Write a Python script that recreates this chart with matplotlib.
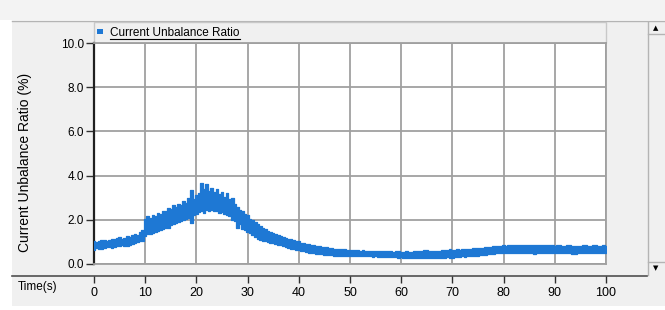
import matplotlib.pyplot as plt
import matplotlib.patches as mpatches
from matplotlib.lines import Line2D

# Datos: envolvente de la banda, una muestra cada 0.5 s
tiempo = [i * 0.5 for i in range(201)]
ratioSup = [1.05, 0.98, 1.02, 1.08, 1.10, 1.04, 1.08, 1.14, 1.12, 1.18,
            1.20, 1.14, 1.18, 1.26, 1.22, 1.30, 1.35, 1.32, 1.45, 1.52,
            2.05, 2.15, 2.08, 2.20, 2.15, 2.30, 2.25, 2.42, 2.38, 2.55,
            2.50, 2.68, 2.60, 2.72, 2.65, 2.85, 2.78, 3.00, 3.35, 2.95,
            3.10, 3.20, 3.65, 3.40, 3.60, 3.30, 3.45, 3.25, 3.40, 3.15,
            3.25, 3.05, 3.20, 2.95, 3.00, 2.70, 2.60, 2.45, 2.40, 2.25,
            2.20, 2.05, 2.00, 1.88, 1.82, 1.70, 1.62, 1.58, 1.50, 1.46,
            1.40, 1.36, 1.30, 1.28, 1.22, 1.18, 1.15, 1.12, 1.08, 1.04,
            1.02, 0.97, 0.95, 0.92, 0.90, 0.86, 0.85, 0.81, 0.80, 0.76,
            0.75, 0.77, 0.73, 0.72, 0.70, 0.69, 0.68, 0.66, 0.66, 0.64,
            0.64, 0.62, 0.62, 0.64, 0.61, 0.62, 0.61, 0.59, 0.61, 0.60,
            0.60, 0.58, 0.60, 0.57, 0.58, 0.59, 0.60, 0.56, 0.57, 0.58,
            0.56, 0.55, 0.57, 0.55, 0.56, 0.58, 0.58, 0.61, 0.60, 0.62,
            0.63, 0.60, 0.60, 0.59, 0.61, 0.60, 0.62, 0.64, 0.63, 0.66,
            0.64, 0.63, 0.66, 0.65, 0.68, 0.66, 0.70, 0.69, 0.71, 0.73,
            0.72, 0.71, 0.74, 0.76, 0.77, 0.79, 0.80, 0.82, 0.83, 0.82,
            0.85, 0.83, 0.84, 0.86, 0.85, 0.84, 0.88, 0.85, 0.86, 0.88,
            0.84, 0.86, 0.87, 0.84, 0.85, 0.87, 0.84, 0.85, 0.86, 0.84,
            0.83, 0.85, 0.84, 0.82, 0.83, 0.85, 0.85, 0.83, 0.80, 0.83,
            0.82, 0.84, 0.84, 0.82, 0.82, 0.85, 0.85, 0.83, 0.83, 0.84,
            0.82]
ratioInf = [0.65, 0.72, 0.70, 0.68, 0.72, 0.76, 0.75, 0.72, 0.78, 0.80,
            0.80, 0.84, 0.82, 0.80, 0.88, 0.92, 0.95, 1.00, 1.05, 1.02,
            1.25, 1.38, 1.35, 1.42, 1.45, 1.50, 1.55, 1.60, 1.65, 1.62,
            1.75, 1.80, 1.85, 1.88, 1.95, 2.00, 2.05, 2.10, 1.85, 2.20,
            2.25, 2.35, 2.40, 2.32, 2.45, 2.40, 2.45, 2.38, 2.40, 2.30,
            2.35, 2.28, 2.20, 2.15, 2.00, 1.95, 1.65, 1.80, 1.60, 1.55,
            1.45, 1.40, 1.30, 1.22, 1.12, 1.10, 1.05, 1.02, 1.00, 0.97,
            0.95, 0.90, 0.88, 0.84, 0.80, 0.76, 0.72, 0.70, 0.68, 0.65,
            0.63, 0.60, 0.58, 0.55, 0.52, 0.50, 0.48, 0.47, 0.45, 0.43,
            0.42, 0.40, 0.40, 0.39, 0.38, 0.36, 0.37, 0.36, 0.36, 0.35,
            0.36, 0.34, 0.35, 0.36, 0.36, 0.34, 0.34, 0.35, 0.35, 0.33,
            0.34, 0.33, 0.33, 0.32, 0.32, 0.30, 0.31, 0.31, 0.30, 0.29,
            0.30, 0.29, 0.29, 0.28, 0.28, 0.29, 0.27, 0.26, 0.26, 0.25,
            0.25, 0.26, 0.27, 0.28, 0.28, 0.29, 0.29, 0.28, 0.30, 0.27,
            0.28, 0.31, 0.32, 0.33, 0.34, 0.33, 0.35, 0.36, 0.36, 0.37,
            0.38, 0.40, 0.41, 0.42, 0.44, 0.46, 0.47, 0.49, 0.50, 0.51,
            0.52, 0.50, 0.50, 0.49, 0.51, 0.50, 0.48, 0.51, 0.52, 0.49,
            0.50, 0.48, 0.47, 0.50, 0.51, 0.49, 0.50, 0.48, 0.49, 0.50,
            0.50, 0.49, 0.48, 0.50, 0.50, 0.48, 0.49, 0.47, 0.45, 0.48,
            0.48, 0.50, 0.50, 0.48, 0.48, 0.50, 0.50, 0.49, 0.49, 0.50,
            0.50]
yTicks = [0, 2, 4, 6, 8, 10]
xTicks = [0, 10, 20, 30, 40, 50, 60, 70, 80, 90, 100]
serie = "Current Unbalance Ratio"

W, H = 665, 310
azul = "#1e78d4"
gris = "#f0f0f0"
borde = "#a0a0a0"
fuente = "Liberation Sans"

def fx(px):#pixel x -> fraccion
    return px / W
def fy(py):#pixel y (desde arriba) -> fraccion
    return 1 - py / H

fig = plt.figure(figsize=(W / 100, H / 100), dpi=100, facecolor="white")

#Paneles de fondo (debajo de los ejes)
fig.add_artist(mpatches.Rectangle((fx(12), fy(306)), fx(653), 285 / H, transform=fig.transFigure, facecolor=gris, edgecolor="none", zorder=-10))
fig.add_artist(mpatches.Rectangle((0, fy(20)), 1, 20 / H, transform=fig.transFigure, facecolor="#f3f3f3", edgecolor="none", zorder=-10))
fig.add_artist(Line2D([fx(12), 1], [fy(20.5), fy(20.5)], transform=fig.transFigure, color="#b4b4b4", lw=1, zorder=-9))
#Barra de leyenda
fig.add_artist(mpatches.Rectangle((fx(94), fy(43)), 512 / W, 21 / H, transform=fig.transFigure, facecolor=gris, edgecolor="#c8c8c8", lw=1, zorder=-9))
#Barra de desplazamiento
fig.add_artist(Line2D([fx(647.5), fx(647.5)], [fy(22), fy(275)], transform=fig.transFigure, color="#b4b4b4", lw=1, zorder=-9))
fig.add_artist(Line2D([fx(647.5), 1], [fy(33.5), fy(33.5)], transform=fig.transFigure, color="#b4b4b4", lw=1, zorder=-9))
fig.add_artist(Line2D([fx(647.5), 1], [fy(261.5), fy(261.5)], transform=fig.transFigure, color="#b4b4b4", lw=1, zorder=-9))
fig.text(fx(656), fy(28), "\u25b2", fontsize=5, ha="center", va="center", color="black")
fig.text(fx(656), fy(268), "\u25bc", fontsize=5, ha="center", va="center", color="black")
#Linea del eje de tiempo
fig.add_artist(Line2D([fx(12), fx(647)], [fy(275.5), fy(275.5)], transform=fig.transFigure, color="#505050", lw=1.2, zorder=-9))

#Grafica principal
ax = fig.add_axes([fx(94), fy(264), 512 / W, 221 / H])
ax.set_facecolor("white")
ax.fill_between(tiempo, ratioInf, ratioSup, step="mid", color=azul, lw=0.9, edgecolor=azul, zorder=3)
ax.set_xlim(0, 100)
ax.set_ylim(0, 10)
ax.set_xticks(xTicks)
ax.set_yticks(yTicks)
ax.set_yticklabels([f"{v:.1f}" for v in yTicks], fontsize=8.5, family=fuente)
ax.tick_params(axis="x", length=0, labelbottom=False)
ax.tick_params(axis="y", length=6, width=1, color="#303030", pad=1)
ax.grid(True, color=borde, lw=1.3)
for lado in ["top", "right", "bottom"]:
    ax.spines[lado].set_color(borde)
    ax.spines[lado].set_linewidth(1.3)
ax.spines["left"].set_color("#202020")
ax.spines["left"].set_linewidth(1.6)

#Eje de tiempo
ax2 = fig.add_axes([fx(94), fy(275.5), 512 / W, 0.001])
ax2.set_xlim(0, 100)
ax2.set_xticks(xTicks)
ax2.set_xticklabels([str(v) for v in xTicks], fontsize=9, family=fuente)
ax2.set_yticks([])
ax2.patch.set_visible(False)
for lado in ax2.spines:
    ax2.spines[lado].set_visible(False)
ax2.tick_params(axis="x", length=5, width=1, color="#303030", pad=3)

fig.text(fx(18), fy(287), "Time(s)", fontsize=8.5, family=fuente, ha="left", va="center")
fig.text(fx(25), fy(162), "Current Unbalance Ratio (%)", fontsize=10, family=fuente, rotation=90, ha="center", va="center")

#Leyenda
fig.add_artist(mpatches.Rectangle((fx(97), fy(34)), 6 / W, 5 / H, transform=fig.transFigure, facecolor=azul, edgecolor="none"))
txt = fig.text(fx(110), fy(33), serie, fontsize=8.5, family=fuente, ha="left", va="center")
fig.canvas.draw()
bb = txt.get_window_extent()
fig.add_artist(Line2D([bb.x0 / W, bb.x1 / W], [fy(38.5), fy(38.5)], transform=fig.transFigure, color="black", lw=0.8))

fig.savefig("out.png", dpi=100, facecolor="white")
